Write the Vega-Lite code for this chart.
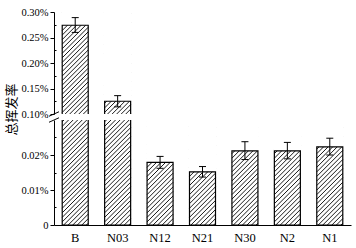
{
  "$schema": "https://vega.github.io/schema/vega-lite/v6.json",
  "padding": {"left": 5, "top": 7, "right": 4, "bottom": 4},
  "bounds": "flush",
  "config": {
    "view": {"stroke": null},
    "font": "Liberation Serif",
    "axis": {"domainColor": "#000", "tickColor": "#000", "labelColor": "#000", "titleColor": "#000", "labelFont": "Liberation Serif", "grid": false, "domainWidth": 1, "tickWidth": 1, "labelOverlap": false}
  },
  "datasets": {
    "d": [
      {"cat": "B", "val": 0.274, "lo": 0.260, "hi": 0.289},
      {"cat": "N03", "val": 0.125, "lo": 0.114, "hi": 0.136},
      {"cat": "N12", "val": 0.0179, "lo": 0.0162, "hi": 0.0196},
      {"cat": "N21", "val": 0.0152, "lo": 0.0137, "hi": 0.0167},
      {"cat": "N30", "val": 0.0212, "lo": 0.0187, "hi": 0.0238},
      {"cat": "N2", "val": 0.0212, "lo": 0.0189, "hi": 0.0236},
      {"cat": "N1", "val": 0.0223, "lo": 0.0200, "hi": 0.0248}
    ]
  },
  "spacing": 6,
  "vconcat": [
    {
      "width": 297,
      "height": 102,
      "data": {"name": "d"},
      "transform": [{"filter": "datum.val > 0.1"}],
      "encoding": {
        "x": {"field": "cat", "type": "nominal", "sort": null, "scale": {"domain": ["B", "N03", "N12", "N21", "N30", "N2", "N1"], "paddingInner": 0, "paddingOuter": 0}, "axis": null}
      },
      "layer": [
        {
          "mark": {"type": "point", "shape": "M -0.2 -0.99 L 0.2 -1.39 M -0.2 -0.92 L 0.2 -1.32 M -0.2 -0.85 L 0.2 -1.25 M -0.2 -0.78 L 0.2 -1.18 M -0.2 -0.71 L 0.2 -1.11 M -0.2 -0.64 L 0.2 -1.04 M -0.2 -0.57 L 0.2 -0.97 M -0.2 -0.5 L 0.2 -0.9 M -0.2 -0.43 L 0.2 -0.83 M -0.2 -0.36 L 0.2 -0.76 M -0.2 -0.29 L 0.2 -0.69 M -0.2 -0.22 L 0.2 -0.62 M -0.2 -0.15 L 0.2 -0.55 M -0.2 -0.08 L 0.2 -0.48 M -0.2 -0.01 L 0.2 -0.41 M -0.2 0.06 L 0.2 -0.34 M -0.2 0.13 L 0.2 -0.27 M -0.2 0.2 L 0.2 -0.2 M -0.2 0.27 L 0.2 -0.13 M -0.2 0.34 L 0.2 -0.06 M -0.2 0.41 L 0.2 0.01 M -0.2 0.48 L 0.2 0.08 M -0.2 0.55 L 0.2 0.15 M -0.2 0.62 L 0.2 0.22 M -0.2 0.69 L 0.2 0.29 M -0.2 0.76 L 0.2 0.36 M -0.2 0.83 L 0.2 0.43 M -0.2 0.9 L 0.2 0.5 M -0.2 0.97 L 0.2 0.57 M -0.2 1.04 L 0.2 0.64 M -0.2 1.11 L 0.2 0.71 M -0.2 1.18 L 0.2 0.78 M -0.2 1.25 L 0.2 0.85 M -0.2 1.32 L 0.2 0.92 M -0.2 1.39 L 0.2 0.99", "size": 16900, "filled": false, "stroke": "#000", "strokeWidth": 0.9, "opacity": 1, "clip": true},
          "encoding": {
            "y": {"datum": 0.2, "type": "quantitative", "scale": {"domain": [0.1, 0.3]},
              "axis": {
                "values": [0.1, 0.125, 0.15, 0.175, 0.2, 0.225, 0.25, 0.275, 0.3],
                "tickCount": 50,
                "labelExpr": "abs(datum.value*20 - round(datum.value*20)) < 0.01 ? format(datum.value, '.2f') + '%' : ''",
                "tickSize": {"condition": {"test": "abs(datum.value*20 - round(datum.value*20)) >= 0.01", "value": -2}, "value": 4},
                "labelOverlap": false, "labelFont": "Liberation Serif", "labelFontSize": 10.5, "labelPadding": 2, "title": null
              }
            }
          }
        },
        {
          "mark": {"type": "bar", "width": 28, "fill": "white", "opacity": 1, "clip": true},
          "encoding": {
            "y": {"field": "val", "type": "quantitative", "scale": {"domain": [0.1, 0.3]}},
            "y2": {"datum": 0.3}
          }
        },
        {
          "mark": {"type": "bar", "width": 26, "fillOpacity": 0, "stroke": "#000", "strokeWidth": 1.2, "opacity": 1, "clip": true},
          "encoding": {
            "y": {"field": "val", "type": "quantitative", "scale": {"domain": [0.1, 0.3]}},
            "y2": {"datum": 0}
          }
        },
        {
          "mark": {"type": "rule", "color": "#000", "strokeWidth": 1, "clip": true},
          "encoding": {
            "y": {"field": "lo", "type": "quantitative", "scale": {"domain": [0.1, 0.3]}},
            "y2": {"field": "hi"}
          }
        },
        {
          "mark": {"type": "tick", "orient": "horizontal", "size": 7, "thickness": 1, "color": "#000", "opacity": 1, "clip": true},
          "encoding": {
            "y": {"field": "lo", "type": "quantitative", "scale": {"domain": [0.1, 0.3]}}
          }
        },
        {
          "mark": {"type": "tick", "orient": "horizontal", "size": 7, "thickness": 1, "color": "#000", "opacity": 1, "clip": true},
          "encoding": {
            "y": {"field": "hi", "type": "quantitative", "scale": {"domain": [0.1, 0.3]}}
          }
        },
        {
          "data": {"values": [{"brk": "upper"}]},
          "mark": {"type": "point", "shape": "M -1 0.45 L 1 -0.45", "size": 100, "filled": false, "stroke": "#000", "strokeWidth": 1, "opacity": 1},
          "encoding": {
            "x": {"datum": "B", "type": "nominal", "bandPosition": 0},
            "y": {"datum": 0.1, "type": "quantitative", "scale": {"domain": [0.1, 0.3]}}
          }
        }
      ]
    },
    {
      "width": 297,
      "height": 105,
      "data": {"name": "d"},
      "encoding": {
        "x": {"field": "cat", "type": "nominal", "sort": null, "scale": {"domain": ["B", "N03", "N12", "N21", "N30", "N2", "N1"], "paddingInner": 0, "paddingOuter": 0},
          "axis": {"title": null, "ticks": false, "labelAngle": 0, "labelFont": "Liberation Serif", "labelFontSize": 12.5, "labelPadding": 6}}
      },
      "layer": [
        {
          "mark": {"type": "point", "shape": "M -0.2 -0.99 L 0.2 -1.39 M -0.2 -0.92 L 0.2 -1.32 M -0.2 -0.85 L 0.2 -1.25 M -0.2 -0.78 L 0.2 -1.18 M -0.2 -0.71 L 0.2 -1.11 M -0.2 -0.64 L 0.2 -1.04 M -0.2 -0.57 L 0.2 -0.97 M -0.2 -0.5 L 0.2 -0.9 M -0.2 -0.43 L 0.2 -0.83 M -0.2 -0.36 L 0.2 -0.76 M -0.2 -0.29 L 0.2 -0.69 M -0.2 -0.22 L 0.2 -0.62 M -0.2 -0.15 L 0.2 -0.55 M -0.2 -0.08 L 0.2 -0.48 M -0.2 -0.01 L 0.2 -0.41 M -0.2 0.06 L 0.2 -0.34 M -0.2 0.13 L 0.2 -0.27 M -0.2 0.2 L 0.2 -0.2 M -0.2 0.27 L 0.2 -0.13 M -0.2 0.34 L 0.2 -0.06 M -0.2 0.41 L 0.2 0.01 M -0.2 0.48 L 0.2 0.08 M -0.2 0.55 L 0.2 0.15 M -0.2 0.62 L 0.2 0.22 M -0.2 0.69 L 0.2 0.29 M -0.2 0.76 L 0.2 0.36 M -0.2 0.83 L 0.2 0.43 M -0.2 0.9 L 0.2 0.5 M -0.2 0.97 L 0.2 0.57 M -0.2 1.04 L 0.2 0.64 M -0.2 1.11 L 0.2 0.71 M -0.2 1.18 L 0.2 0.78 M -0.2 1.25 L 0.2 0.85 M -0.2 1.32 L 0.2 0.92 M -0.2 1.39 L 0.2 0.99", "size": 16900, "filled": false, "stroke": "#000", "strokeWidth": 0.9, "opacity": 1, "clip": true},
          "encoding": {
            "y": {"datum": 0.015, "type": "quantitative", "scale": {"domain": [0, 0.03]},
              "axis": {
                "values": [0, 0.005, 0.01, 0.015, 0.02, 0.025],
                "tickCount": 50,
                "labelExpr": "datum.value == 0 ? '0' : (round(datum.value*1000) % 10 == 0 ? format(datum.value, '.2f') + '%' : '')",
                "tickSize": {"condition": {"test": "round(datum.value*1000) % 10 != 0", "value": -2}, "value": 4},
                "labelOverlap": false, "labelFont": "Liberation Serif", "labelFontSize": 10.5, "labelPadding": 2,
                "title": "总挥发率", "titleFont": "Noto Sans CJK SC", "titleFontSize": 13, "titleFontWeight": "normal", "titleY": -11, "titlePadding": 2
              }
            }
          }
        },
        {
          "mark": {"type": "bar", "width": 28, "fill": "white", "opacity": 1, "clip": true},
          "encoding": {
            "y": {"field": "val", "type": "quantitative", "scale": {"domain": [0, 0.03]}},
            "y2": {"datum": 0.03}
          }
        },
        {
          "mark": {"type": "bar", "width": 26, "fillOpacity": 0, "stroke": "#000", "strokeWidth": 1.2, "opacity": 1, "clip": true},
          "encoding": {
            "y": {"field": "val", "type": "quantitative", "scale": {"domain": [0, 0.03]}},
            "y2": {"datum": 0}
          }
        },
        {
          "transform": [{"filter": "datum.val < 0.03"}],
          "mark": {"type": "rule", "color": "#000", "strokeWidth": 1, "clip": true},
          "encoding": {
            "y": {"field": "lo", "type": "quantitative", "scale": {"domain": [0, 0.03]}},
            "y2": {"field": "hi"}
          }
        },
        {
          "transform": [{"filter": "datum.val < 0.03"}],
          "mark": {"type": "tick", "orient": "horizontal", "size": 7, "thickness": 1, "color": "#000", "opacity": 1, "clip": true},
          "encoding": {
            "y": {"field": "lo", "type": "quantitative", "scale": {"domain": [0, 0.03]}}
          }
        },
        {
          "transform": [{"filter": "datum.val < 0.03"}],
          "mark": {"type": "tick", "orient": "horizontal", "size": 7, "thickness": 1, "color": "#000", "opacity": 1, "clip": true},
          "encoding": {
            "y": {"field": "hi", "type": "quantitative", "scale": {"domain": [0, 0.03]}}
          }
        },
        {
          "data": {"values": [{"brk": "lower"}]},
          "mark": {"type": "point", "shape": "M -1 0.45 L 1 -0.45", "size": 100, "filled": false, "stroke": "#000", "strokeWidth": 1, "opacity": 1},
          "encoding": {
            "x": {"datum": "B", "type": "nominal", "bandPosition": 0},
            "y": {"datum": 0.03, "type": "quantitative", "scale": {"domain": [0, 0.03]}}
          }
        }
      ]
    }
  ]
}
